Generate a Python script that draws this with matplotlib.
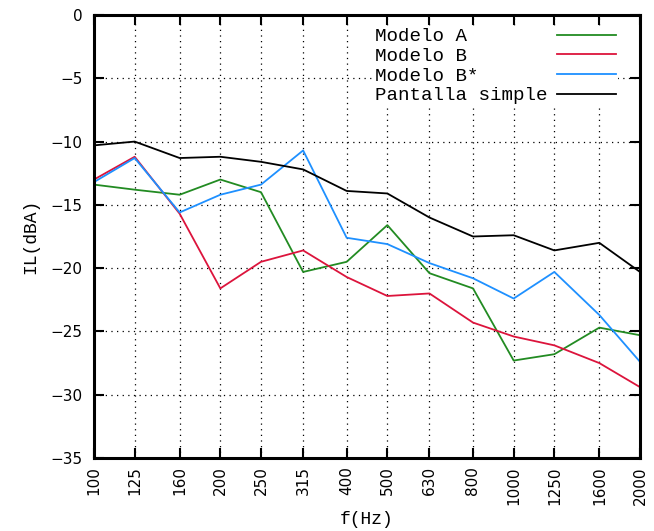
import matplotlib
matplotlib.use("Agg")
import matplotlib.pyplot as plt
from matplotlib.ticker import FixedLocator, FixedFormatter, NullLocator

# Third-octave band centre frequencies (Hz)
freqs = [100, 125, 160, 200, 250, 315, 400, 500, 630, 800, 1000, 1250, 1600, 2000]
freq_labels = [str(f) for f in freqs]

# Insertion loss, IL (dBA)
modelo_a = [-13.4, -13.8, -14.2, -13.0, -14.0, -20.3, -19.5, -16.6, -20.4, -21.6,
            -27.3, -26.8, -24.7, -25.3]
modelo_b = [-13.0, -11.2, -15.7, -21.6, -19.5, -18.6, -20.7, -22.2, -22.0, -24.3,
            -25.4, -26.1, -27.5, -29.4]
modelo_b_star = [-13.2, -11.3, -15.6, -14.2, -13.4, -10.7, -17.6, -18.1, -19.6, -20.8,
                 -22.4, -20.3, -23.7, -27.4]
pantalla_simple = [-10.3, -10.0, -11.3, -11.2, -11.6, -12.2, -13.9, -14.1, -16.0, -17.5,
                   -17.4, -18.6, -18.0, -20.3]

y_ticks = [0, -5, -10, -15, -20, -25, -30, -35]

series = [
    ("Modelo A", modelo_a, "#228B22"),
    ("Modelo B", modelo_b, "#DC143C"),
    ("Modelo B*", modelo_b_star, "#1E90FF"),
    ("Pantalla simple", pantalla_simple, "#000000"),
]

mono = "Liberation Mono"

fig = plt.figure(figsize=(6.54, 5.31), dpi=100)
ax = fig.add_axes([94 / 654, 1 - 458 / 531, 546 / 654, 443 / 531])

# monospaced key: pad names to a common width so they read left-aligned
width = max(len(n) for n, _, _ in series)
for name, vals, col in series:
    ax.plot(freqs, vals, color=col, lw=1.3, label=name.ljust(width))

ax.set_xscale("log")
ax.set_xlim(100, 2000)
ax.set_ylim(-35, 0)
ax.xaxis.set_major_locator(FixedLocator(freqs))
ax.xaxis.set_major_formatter(FixedFormatter(freq_labels))
ax.xaxis.set_minor_locator(NullLocator())
ax.set_yticks(y_ticks)

ax.grid(True, color="black", lw=0.9, linestyle=(0, (1, 3.5)))
ax.set_axisbelow(True)

for sp in ax.spines.values():
    sp.set_linewidth(2.2)

ax.tick_params(axis="both", which="major", direction="in", length=7, width=1.5,
               top=True, right=True, labelsize=11)
ax.tick_params(axis="x", labelrotation=90, pad=6)
ax.tick_params(axis="y", pad=8)

ax.set_xlabel("f(Hz)", family=mono, fontsize=13, labelpad=4)
ax.set_ylabel("IL(dBA)", family=mono, fontsize=13, labelpad=8)

leg = ax.legend(loc="upper right", bbox_to_anchor=((618 - 94) / 546, (458 - 26) / 443),
                markerfirst=False, frameon=True, fancybox=False, framealpha=1,
                edgecolor="none", facecolor="white", borderpad=0.1, borderaxespad=0,
                handlelength=3.1, handletextpad=0.5, labelspacing=0.12,
                prop={"family": mono, "size": 13.8})

fig.savefig("out.png", dpi=100)
